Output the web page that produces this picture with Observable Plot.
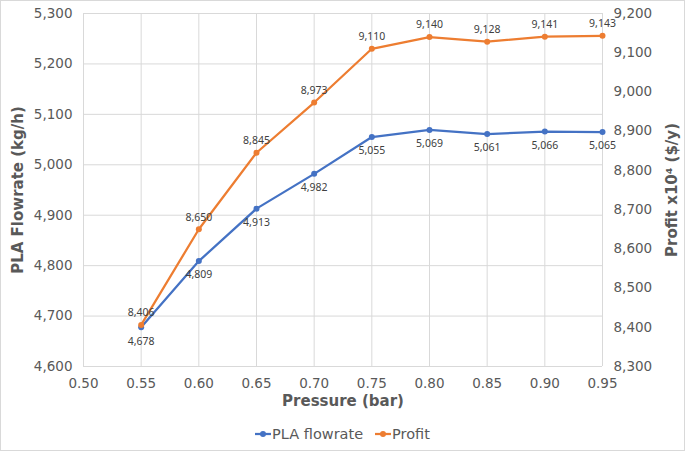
<!DOCTYPE html>
<html>
<head>
<meta charset="utf-8">
<script src="https://cdn.jsdelivr.net/npm/d3@7"></script>
<script src="https://cdn.jsdelivr.net/npm/@observablehq/plot@0.6"></script>
<style>
  html, body { margin: 0; padding: 0; background: #fff; }
  #wrap { position: relative; width: 685px; height: 451px; overflow: hidden; }
  #frame { position: absolute; left: 0; top: 0; width: 685px; height: 451px; box-sizing: border-box; border: 1px solid #d9d9d9; pointer-events: none; }
  #legend { display: flex; justify-content: center; align-items: center; height: 28px; margin-top: 0px; font-family: "DejaVu Sans", sans-serif; font-size: 14.5px; color: #595959; }
  .item { display: flex; align-items: center; margin: 0 6px; }
  .item svg { margin-right: 1px; }
</style>
</head>
<body>
<div id="wrap">
  <div id="chart"></div>
  <div id="legend"></div>
  <div id="frame"></div>
</div>
<script>
const pressure = [0.55, 0.60, 0.65, 0.70, 0.75, 0.80, 0.85, 0.90, 0.95];
const plaFlowrate = [4678, 4809, 4913, 4982, 5055, 5069, 5061, 5066, 5065];
const profit = [8406, 8650, 8845, 8973, 9110, 9140, 9128, 9141, 9143];
const xTicks = [0.50, 0.55, 0.60, 0.65, 0.70, 0.75, 0.80, 0.85, 0.90, 0.95];
const leftTicks = [4600, 4700, 4800, 4900, 5000, 5100, 5200, 5300];
const rightTicks = [8300, 8400, 8500, 8600, 8700, 8800, 8900, 9000, 9100, 9200];
const seriesNames = ["PLA flowrate", "Profit"];
const colors = ["#4472C4", "#ED7D31"];

const leftDomain = [4600, 5300];
const rightDomain = [8300, 9200];
const toLeft = v => leftDomain[0] + (v - rightDomain[0]) * (leftDomain[1] - leftDomain[0]) / (rightDomain[1] - rightDomain[0]);
const fromLeft = v => rightDomain[0] + (v - leftDomain[0]) * (rightDomain[1] - rightDomain[0]) / (leftDomain[1] - leftDomain[0]);

const fmt = d3.format(",");
const data = pressure.map((p, i) => ({p, pla: plaFlowrate[i], profit: profit[i], profitL: toLeft(profit[i])}));

const labelFont = {fontFamily: "Noto Sans, sans-serif", fontSize: 10.5, fill: "#404040"};
const titleFont = {fontWeight: "bold", fontSize: 15, fill: "#595959", textAnchor: "middle"};

const chart = Plot.plot({
  width: 685,
  height: 420,
  marginLeft: 83,
  marginRight: 83,
  marginTop: 13,
  marginBottom: 54,
  style: {fontFamily: "DejaVu Sans, sans-serif", fontSize: "13.5px", color: "#595959", background: "white", overflow: "visible"},
  x: {domain: [0.5, 0.95]},
  y: {domain: leftDomain},
  marks: [
    Plot.gridX(xTicks, {stroke: "#d9d9d9", strokeOpacity: 1}),
    Plot.gridY(leftTicks, {stroke: "#d9d9d9", strokeOpacity: 1}),
    Plot.axisX(xTicks, {tickSize: 0, tickPadding: 12, tickFormat: d => d.toFixed(2), label: null}),
    Plot.axisY(leftTicks, {anchor: "left", tickSize: 0, tickPadding: 11, tickFormat: fmt, label: null}),
    Plot.axisY(rightTicks.map(toLeft), {anchor: "right", tickSize: 0, tickPadding: 11, tickFormat: v => fmt(Math.round(fromLeft(v))), label: null}),
    Plot.line(data, {x: "p", y: "pla", stroke: colors[0], strokeWidth: 2.25}),
    Plot.dot(data, {x: "p", y: "pla", r: 3, fill: colors[0]}),
    Plot.line(data, {x: "p", y: "profitL", stroke: colors[1], strokeWidth: 2.25}),
    Plot.dot(data, {x: "p", y: "profitL", r: 3, fill: colors[1]}),
    Plot.text(data, {x: "p", y: "pla", text: d => fmt(d.pla), dy: 14, ...labelFont}),
    Plot.text(data, {x: "p", y: "profitL", text: d => fmt(d.profit), dy: -12, ...labelFont}),
    Plot.text(["Pressure (bar)"], {frameAnchor: "bottom", dy: 39, text: d => d, ...titleFont}),
    Plot.text(["PLA Flowrate (kg/h)"], {frameAnchor: "left", dx: -65, rotate: -90, text: d => d, ...titleFont}),
    Plot.text(["Profit x10⁴ ($/y)"], {frameAnchor: "right", dx: 70, rotate: -90, text: d => d, ...titleFont})
  ]
});
document.getElementById("chart").appendChild(chart);

const legend = document.getElementById("legend");
seriesNames.forEach((name, i) => {
  const item = document.createElement("div");
  item.className = "item";
  item.innerHTML = `<svg width="16" height="10"><line x1="0" y1="5" x2="16" y2="5" stroke="${colors[i]}" stroke-width="2.25"/><circle cx="8" cy="5" r="3" fill="${colors[i]}"/></svg><span>${name}</span>`;
  legend.appendChild(item);
});
</script>
</body>
</html>
